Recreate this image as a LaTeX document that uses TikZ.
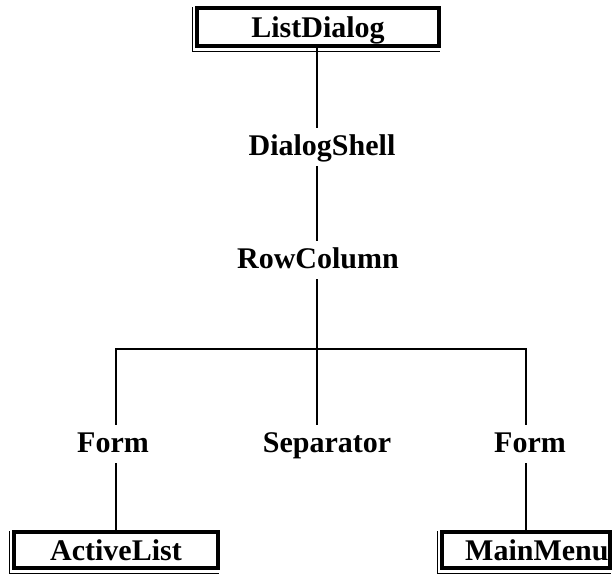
\documentclass[tikz,border=0pt]{standalone}
\usepackage{fontspec}
\setmainfont{Liberation Serif}
\begin{document}
\begin{tikzpicture}[x=1pt,y=-1pt,
  lbl/.style={font=\bfseries\fontsize{30}{34}\selectfont, inner xsep=0pt,
    inner ysep=6pt, text height=21pt, text depth=5pt, anchor=base},
  frame/.style={draw, line width=4pt, inner sep=0pt, text height=20pt,
    text depth=0pt, font=\bfseries\fontsize{30}{34}\selectfont},
  echo/.style={line width=0.7pt},
  link/.style={line width=2.4pt}]
\useasboundingbox (0,0) rectangle (613,573);

% widget tree nodes
\node[frame, minimum width=242pt, minimum height=38pt] (ld) at (318,27) {ListDialog};
\node[lbl] (ds) at (322,155) {DialogShell};
\node[lbl] (rc) at (318,268) {RowColumn};
\node[lbl] (fl) at (113,452) {Form};
\node[lbl] (sep) at (327,452) {Separator};
\node[lbl] (fr) at (530,452) {Form};
\node[frame, minimum width=204pt, minimum height=36pt] (al) at (116,550) {ActiveList};
\node[lbl, anchor=base west, inner ysep=0pt] (mmtext) at (465,560) {MainMenu};
\node[frame, minimum width=168pt, minimum height=36pt] (mm) at (526,550) {};

% thin offset edge along the left and bottom of each frame
\foreach \b in {ld, al, mm}
  \draw[echo] ([shift={(-3,1)}]\b.north west) -- ([shift={(-3,3)}]\b.south west)
    -- ([shift={(-1,3)}]\b.south east);

% branch point under RowColumn
\coordinate (bar) at (317,349);

% connectors
\draw[link] (ld.south -| bar) -- (ds.north -| bar);
\draw[link] (ds.south -| bar) -- (rc.north -| bar);
\draw[link] (rc.south -| bar) -- (sep.north -| bar);
\draw[link] (al.north |- fl.north) -- (al.north |- bar) -- (mm.north |- bar) -- (mm.north |- fr.north);
\draw[link] (fl.south -| al.north) -- (al.north);
\draw[link] (fr.south -| mm.north) -- (mm.north);
\end{tikzpicture}
\end{document}
